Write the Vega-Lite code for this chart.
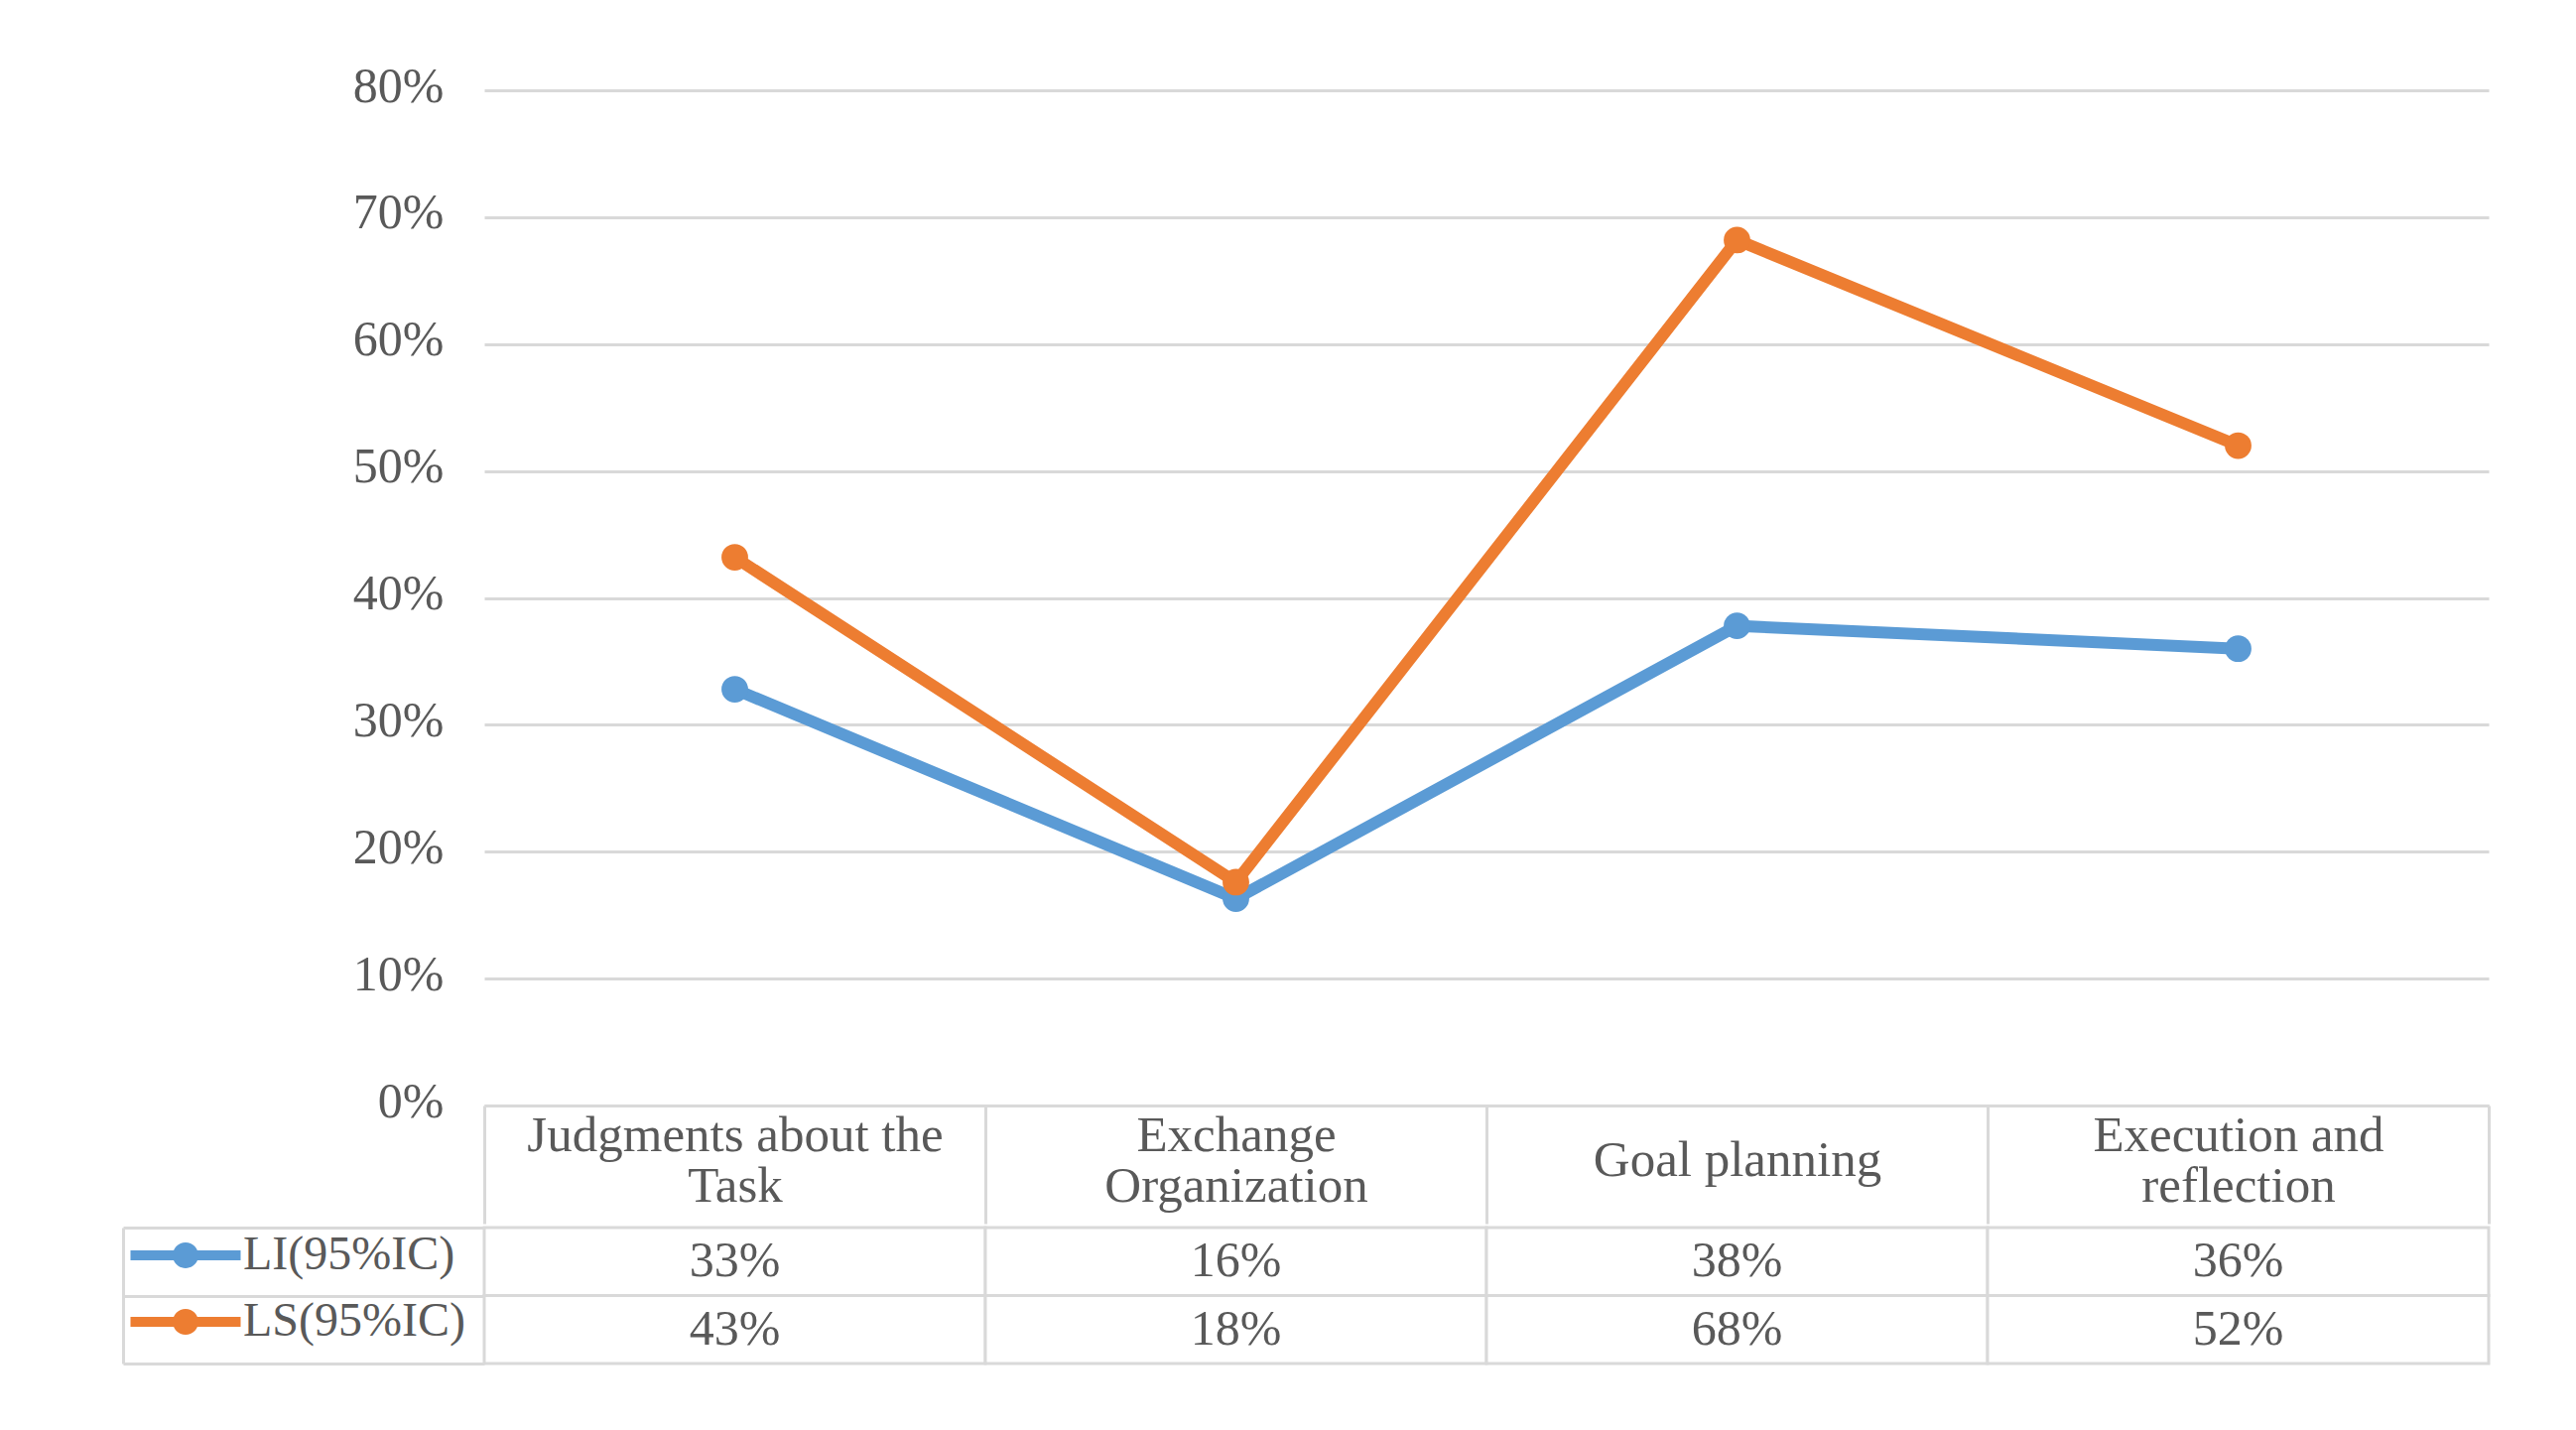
{
  "$schema": "https://vega.github.io/schema/vega-lite/v6.json",
  "background": "white",
  "padding": {"left": 122, "top": 62, "right": 40, "bottom": 40},
  "datasets": {
    "scores": [
      {"category": "Judgments about the Task", "series": "LI(95%IC)", "value": 0.328},
      {"category": "Exchange Organization", "series": "LI(95%IC)", "value": 0.163},
      {"category": "Goal planning", "series": "LI(95%IC)", "value": 0.378},
      {"category": "Execution and reflection", "series": "LI(95%IC)", "value": 0.36},
      {"category": "Judgments about the Task", "series": "LS(95%IC)", "value": 0.432},
      {"category": "Exchange Organization", "series": "LS(95%IC)", "value": 0.176},
      {"category": "Goal planning", "series": "LS(95%IC)", "value": 0.682},
      {"category": "Execution and reflection", "series": "LS(95%IC)", "value": 0.52}
    ]
  },
  "data": {"name": "scores"},
  "config": {
    "view": {"stroke": null},
    "font": "Liberation Serif"
  },
  "spacing": 0,
  "vconcat": [
    {
      "width": 2020,
      "height": 1023,
      "encoding": {
        "x": {
          "field": "category",
          "type": "nominal",
          "sort": ["Judgments about the Task", "Exchange Organization", "Goal planning", "Execution and reflection"],
          "bandPosition": 0.5,
          "scale": {"type": "band", "paddingInner": 0, "paddingOuter": 0},
          "axis": {
            "title": null,
            "orient": "bottom",
            "domain": true,
            "domainColor": "#d9d9d9",
            "domainWidth": 3,
            "ticks": true,
            "tickBand": "extent",
            "tickSize": 119,
            "tickColor": "#d9d9d9",
            "tickWidth": 3,
            "labelAngle": 0,
            "labelBaseline": "middle",
            "labelPadding": {"condition": {"test": "datum.label == 'Goal planning'", "value": -64}, "value": -89},
            "labelFont": "Liberation Serif",
            "labelFontSize": 51,
            "labelLineHeight": 51,
            "labelColor": "#595959",
            "labelLimit": 0,
            "labelOverlap": false,
            "labelExpr": "datum.label == 'Judgments about the Task' ? ['Judgments about the', 'Task'] : datum.label == 'Exchange Organization' ? ['Exchange', 'Organization'] : datum.label == 'Execution and reflection' ? ['Execution and', 'reflection'] : datum.label"
          }
        },
        "y": {
          "field": "value",
          "type": "quantitative",
          "scale": {"domain": [0, 0.8], "nice": false, "zero": true},
          "axis": {
            "title": null,
            "values": [0, 0.1, 0.2, 0.3, 0.4, 0.5, 0.6, 0.7, 0.8],
            "format": ".0%",
            "domain": false,
            "ticks": false,
            "grid": true,
            "gridColor": "#d9d9d9",
            "gridWidth": 3,
            "labelPadding": 41,
            "labelOffset": -4,
            "labelFont": "Liberation Serif",
            "labelFontSize": 50,
            "labelColor": "#595959"
          }
        },
        "color": {
          "field": "series",
          "type": "nominal",
          "scale": {"domain": ["LI(95%IC)", "LS(95%IC)"], "range": ["#5B9BD5", "#ED7D31"]},
          "legend": {
            "title": null,
            "orient": "none",
            "legendX": -325,
            "legendY": 1150,
            "padding": 0,
            "direction": "vertical",
            "symbolType": "M-3,-0.27H3V0.27H-3Z M0.7,0A0.7,0.7 0 1,1 -0.7,0A0.7,0.7 0 1,1 0.7,0Z",
            "symbolSize": 1369,
            "symbolStrokeWidth": 0,
            "labelOffset": 34,
            "labelFont": "Liberation Serif",
            "labelFontSize": 48,
            "labelColor": "#595959",
            "labelLimit": 0,
            "rowPadding": 19,
            "encode": {
              "symbols": {
                "update": {
                  "fill": {"scale": "color", "field": "value"},
                  "stroke": {"value": "transparent"},
                  "opacity": {"value": 1}
                }
              }
            }
          }
        }
      },
      "layer": [
        {"mark": {"type": "line", "strokeWidth": 12}},
        {"mark": {"type": "point", "filled": true, "size": 720, "opacity": 1}}
      ]
    },
    {
      "width": 2020,
      "height": 137,
      "encoding": {
        "x": {
          "field": "category",
          "type": "nominal",
          "sort": ["Judgments about the Task", "Exchange Organization", "Goal planning", "Execution and reflection"],
          "scale": {"type": "band", "paddingInner": 0, "paddingOuter": 0},
          "axis": null
        },
        "y": {
          "field": "series",
          "type": "nominal",
          "sort": ["LI(95%IC)", "LS(95%IC)"],
          "scale": {"type": "band", "paddingInner": 0, "paddingOuter": 0},
          "axis": {
            "title": null,
            "orient": "left",
            "offset": 364,
            "domain": true,
            "domainColor": "#d9d9d9",
            "domainWidth": 3,
            "ticks": true,
            "tickBand": "extent",
            "tickSize": -364,
            "tickColor": "#d9d9d9",
            "tickWidth": 3,
            "labels": false,
            "grid": false
          }
        }
      },
      "layer": [
        {"mark": {"type": "rect", "fill": "white", "stroke": "#d9d9d9", "strokeWidth": 3}},
        {
          "mark": {"type": "text", "font": "Liberation Serif", "fontSize": 50, "color": "#595959"},
          "encoding": {"text": {"field": "value", "type": "quantitative", "format": ".0%"}}
        }
      ]
    }
  ]
}
